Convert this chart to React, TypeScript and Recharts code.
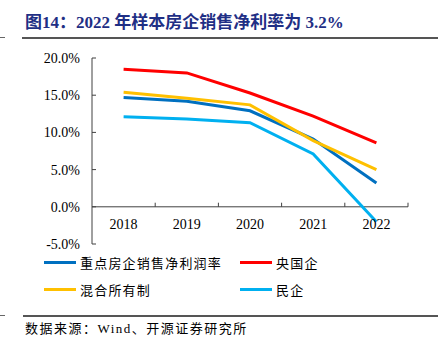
import { LineChart, Line, XAxis, YAxis, ReferenceLine } from 'recharts';

const years = [2018, 2019, 2020, 2021, 2022];
const keyDevelopers = [14.7, 14.2, 12.9, 9.1, 3.2];
const stateOwned = [18.5, 18.0, 15.3, 12.2, 8.6];
const mixedOwnership = [15.4, 14.6, 13.7, 8.9, 5.0];
const privateOwned = [12.1, 11.8, 11.3, 7.1, -2.0];
const yTicks = [-5, 0, 5, 10, 15, 20];
const bandEdges = [2018.5, 2019.5, 2020.5, 2021.5, 2022.5];

const series = [
  { key: 'keyDev', name: '重点房企销售净利润率', color: '#0070C0', values: keyDevelopers },
  { key: 'soe', name: '央国企', color: '#FF0000', values: stateOwned },
  { key: 'mixed', name: '混合所有制', color: '#FFC000', values: mixedOwnership },
  { key: 'private', name: '民企', color: '#00B0F0', values: privateOwned },
];

const data = years.map((year, i) => {
  const row: Record<string, number> = { year };
  series.forEach((s) => {
    row[s.key] = s.values[i];
  });
  return row;
});

const serif = "'Liberation Serif', 'Times New Roman', serif";
const cjk = "'Liberation Serif', 'Noto Sans CJK SC', sans-serif";
const axisColor = '#404040';

const XTick = (props: any) => {
  const { x, y, payload } = props;
  return (
    <text x={x} y={y - 23} textAnchor="middle" fontFamily={serif} fontSize={14} fill="#000">
      {payload.value}
    </text>
  );
};

const YTick = (props: any) => {
  const { x, y, payload } = props;
  return (
    <g>
      <line x1={x + 12} x2={x + 16} y1={y} y2={y} stroke={axisColor} />
      <text x={x} y={y + 5} textAnchor="end" fontFamily={serif} fontSize={14} fill="#000">
        {payload.value.toFixed(1) + '%'}
      </text>
    </g>
  );
};

const App = () => {
  return (
    <div style={{ position: 'fixed', left: 0, top: 0, width: 438, height: 350, background: '#fff' }}>
      <div
        style={{
          position: 'absolute',
          left: 25,
          top: 12,
          fontFamily: cjk,
          fontWeight: 'bold',
          fontSize: 17,
          color: '#1F2F85',
          whiteSpace: 'nowrap',
          lineHeight: '22px',
        }}
      >
        图14：2022 年样本房企销售净利率为 3.2%
      </div>
      <div style={{ position: 'absolute', left: 0, top: 37, width: 5, height: 1, background: '#666' }} />
      <div style={{ position: 'absolute', left: 22, top: 37, width: 416, height: 1.5, background: '#555' }} />

      <LineChart width={438} height={350} data={data} margin={{ top: 58, right: 30, bottom: 76, left: 0 }}>
        <XAxis
          dataKey="year"
          type="number"
          domain={[2017.5, 2022.5]}
          ticks={years}
          axisLine={false}
          tickLine={false}
          height={30}
          tick={<XTick />}
          interval={0}
        />
        <YAxis
          width={92}
          domain={[-5, 20]}
          ticks={yTicks}
          axisLine={{ stroke: axisColor }}
          tickLine={false}
          tickSize={0}
          tickMargin={12}
          tick={<YTick />}
          interval={0}
        />
        <ReferenceLine y={0} stroke={axisColor} />
        {bandEdges.map((edge) => (
          <ReferenceLine
            key={edge}
            segment={[
              { x: edge, y: 0 },
              { x: edge, y: 0.55 },
            ]}
            stroke={axisColor}
          />
        ))}
        {series.map((s) => (
          <Line
            key={s.key}
            dataKey={s.key}
            name={s.name}
            stroke={s.color}
            strokeWidth={3}
            dot={false}
            isAnimationActive={false}
          />
        ))}
      </LineChart>

      {series.map((s, i) => {
        const col = i % 2;
        const row = Math.floor(i / 2);
        return (
          <div
            key={s.key}
            style={{
              position: 'absolute',
              left: col === 0 ? 44 : 240,
              top: 253 + row * 27,
              display: 'flex',
              alignItems: 'center',
              height: 18,
              whiteSpace: 'nowrap',
            }}
          >
            <div style={{ width: 32, height: 3, background: s.color, marginRight: 4 }} />
            <span style={{ fontFamily: "'Noto Sans CJK SC', sans-serif", fontSize: 13, letterSpacing: 1.2, color: '#000' }}>
              {s.name}
            </span>
          </div>
        );
      })}

      <div style={{ position: 'absolute', left: 0, top: 315, width: 5, height: 1, background: '#666' }} />
      <div style={{ position: 'absolute', left: 23, top: 315, width: 415, height: 1.5, background: '#555' }} />
      <div
        style={{
          position: 'absolute',
          left: 25,
          top: 320,
          fontFamily: "'Liberation Serif', 'Noto Sans CJK SC', serif",
          fontSize: 13,
          letterSpacing: 1.5,
          lineHeight: '18px',
          color: '#000',
          whiteSpace: 'nowrap',
        }}
      >
        数据来源：Wind、开源证券研究所
      </div>
    </div>
  );
};

export default App;
